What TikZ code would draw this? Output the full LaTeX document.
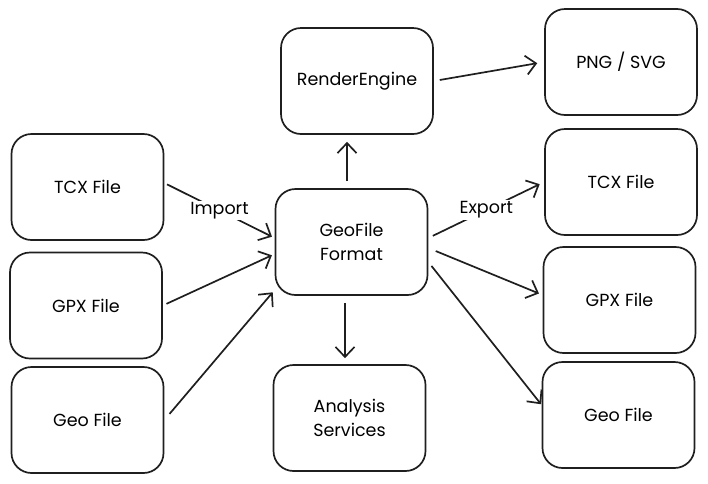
\documentclass[tikz,border=0pt]{standalone}
\usepackage{fontspec}
\setmainfont{Poppins}
\usetikzlibrary{arrows.meta, positioning, calc}

\begin{document}
\begin{tikzpicture}[x=1pt,y=-1pt,
    filebox/.style={rectangle,draw=black!88,line width=1.7pt,rounded corners=20pt,minimum width=152pt,minimum height=106pt,align=center,font=\fontsize{17.5}{24}\selectfont},
    flow/.style={-{Straight Barb[length=10pt,width=19pt,line width=1.7pt]},line width=1.7pt,draw=black!88},
    tag/.style={fill=white,inner sep=1.5pt,font=\fontsize{17.5}{20}\selectfont}]
    \useasboundingbox (0,0) rectangle (708,483);

    % Eingabedateien
    \node[filebox] (in1) at (87.5,187) {TCX File};
    \node[filebox] (in2) at (86,305.5) {GPX File};
    \node[filebox] (in3) at (87.5,420) {Geo File};

    % Mitte
    \node[filebox] (render) at (357,81) {RenderEngine};
    \node[filebox] (geo) at (351.5,242) {GeoFile\\Format};
    \node[filebox] (ana) at (349.5,418) {Analysis\\Services};

    % Ausgaben
    \node[filebox] (png) at (621,62) {PNG / SVG};
    \node[filebox] (out1) at (621,182) {TCX File};
    \node[filebox] (out2) at (619.5,300) {GPX File};
    \node[filebox] (out3) at (618.5,415) {Geo File};

    % Import
    \draw[flow,shorten <=3pt,shorten >=3pt] ([yshift=4pt]in1.east) -- node[tag] {Import} ([yshift=4pt]geo.west);
    \draw[flow,shorten <=4pt,shorten >=3pt] (in2.east) -- ([yshift=-12pt]geo.west);
    \draw[flow,shorten <=8pt,shorten >=3pt] (in3.east) -- ([yshift=-48pt]geo.west);

    % Render und Analyse
    \draw[flow,shorten <=7pt,shorten >=7pt] ([xshift=-4.5pt]geo.north) -- ([xshift=-4.5pt]geo.north |- render.south);
    \draw[flow,shorten <=6pt,shorten >=7pt] (render.east) -- (png.west);
    \draw[flow,shorten <=7pt,shorten >=6pt] ([xshift=-6.5pt]geo.south) -- ([xshift=-6.5pt]geo.south |- ana.north);

    % Export
    \draw[flow,shorten <=5pt,shorten >=5pt] ([yshift=4pt]geo.east) -- node[tag] {Export} (out1.west);
    \draw[flow,shorten <=8pt,shorten >=4pt] ([yshift=-6pt]geo.east) -- ([yshift=5pt]out2.west);
    \draw[flow,shorten <=5pt,shorten >=1pt] ([yshift=-20pt]geo.east) -- ([yshift=10pt]out3.west);
\end{tikzpicture}
\end{document}
